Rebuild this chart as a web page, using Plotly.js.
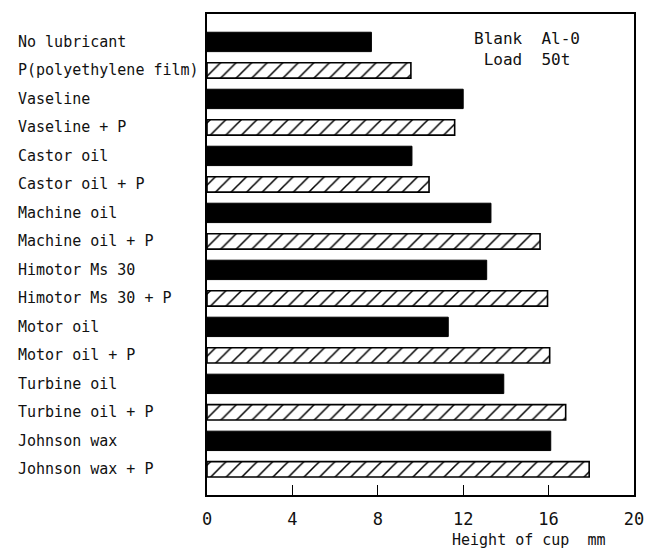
<!DOCTYPE html>
<html>
<head>
<meta charset="utf-8">
<script src="https://cdn.plot.ly/plotly-3.0.1.min.js"></script>
<style>html,body{margin:0;padding:0;background:#fff;}#chart{width:646px;height:554px;}</style>
</head>
<body>
<div id="chart"></div>
<script>
const categories = [
  "No lubricant", "P(polyethylene film)", "Vaseline", "Vaseline + P",
  "Castor oil", "Castor oil + P", "Machine oil", "Machine oil + P",
  "Himotor Ms 30", "Himotor Ms 30 + P", "Motor oil", "Motor oil + P",
  "Turbine oil", "Turbine oil + P", "Johnson wax", "Johnson wax + P"
];
const solidCategories = ["No lubricant", "Vaseline", "Castor oil", "Machine oil", "Himotor Ms 30", "Motor oil", "Turbine oil", "Johnson wax"];
const solidValues = [7.7, 12.0, 9.6, 13.3, 13.1, 11.3, 13.9, 16.1];
const hatchedCategories = ["P(polyethylene film)", "Vaseline + P", "Castor oil + P", "Machine oil + P", "Himotor Ms 30 + P", "Motor oil + P", "Turbine oil + P", "Johnson wax + P"];
const hatchedValues = [9.55, 11.6, 10.4, 15.6, 15.95, 16.05, 16.8, 17.9];
const xTicks = [0, 4, 8, 12, 16, 20];
const xTitle = "Height of cup  mm";
const noteText = "Blank  Al-0<br>Load  50t";

const FONT = "DejaVu Sans Mono, Liberation Mono, monospace";

const traces = [
  {
    type: "bar", orientation: "h",
    y: solidCategories, x: solidValues,
    width: 0.68,
    marker: {color: "#000", line: {color: "#000", width: 1}},
    hoverinfo: "x+y", showlegend: false
  },
  {
    type: "bar", orientation: "h",
    y: hatchedCategories, x: hatchedValues,
    width: 0.54,
    marker: {
      color: "#fff",
      line: {color: "#000", width: 1.6},
      pattern: {shape: "/", fgcolor: "#000", bgcolor: "#fff", size: 11, solidity: 0.14}
    },
    hoverinfo: "x+y", showlegend: false
  }
];

const annotations = categories.map(c => ({
  xref: "paper", yref: "y", x: -0.448, y: c,
  xanchor: "left", yanchor: "middle", showarrow: false,
  text: c, font: {family: FONT, size: 15, color: "#111"}
}));
annotations.push({
  xref: "paper", yref: "paper", x: 0.75, y: 0.972,
  xanchor: "center", yanchor: "top", showarrow: false,
  text: noteText, align: "center",
  font: {family: FONT, size: 16, color: "#111"}
});
annotations.push({
  xref: "paper", yref: "paper", x: 0.753, y: -0.07,
  xanchor: "center", yanchor: "top", showarrow: false,
  text: xTitle, font: {family: FONT, size: 15, color: "#111"}
});

const layout = {
  width: 646, height: 554,
  margin: {l: 207, r: 12, t: 14, b: 59},
  paper_bgcolor: "#fff", plot_bgcolor: "#fff",
  barmode: "overlay",
  showlegend: false,
  xaxis: {
    range: [0, 20], tickvals: xTicks, ticktext: xTicks.map(String),
    ticks: "inside", ticklen: 10, tickwidth: 1.2, tickcolor: "#000",
    ticklabelstandoff: 8,
    showgrid: false, zeroline: false,
    showline: true, linecolor: "#000", linewidth: 1.6, mirror: true,
    tickfont: {family: FONT, size: 17, color: "#111"}
  },
  yaxis: {
    type: "category", categoryorder: "array", categoryarray: categories,
    range: [15.9, -0.98],
    showticklabels: false, ticks: "",
    showgrid: false, zeroline: false,
    showline: true, linecolor: "#000", linewidth: 1.6, mirror: true
  },
  annotations: annotations
};

Plotly.newPlot("chart", traces, layout, {displayModeBar: false, staticPlot: true});
</script>
</body>
</html>
